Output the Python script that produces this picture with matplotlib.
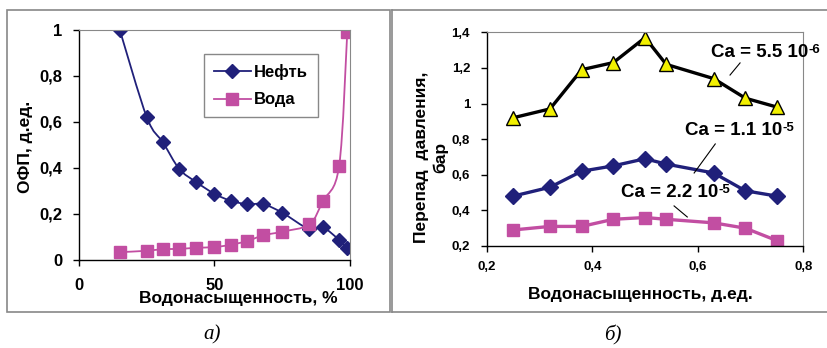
import matplotlib.pyplot as plt
from matplotlib.path import Path
from matplotlib.patches import PathPatch, Rectangle
from matplotlib.lines import Line2D
from matplotlib.ticker import FuncFormatter

plt.rcParams['font.family'] = ['Liberation Sans', 'DejaVu Sans']
plt.rcParams['font.weight'] = 'bold'

# --- data, panel a) ---
sw_pct = [15, 25, 31, 37, 43, 50, 56, 62, 68, 75, 85, 90, 96, 99]
kr_oil = [1.0, 0.62, 0.51, 0.395, 0.34, 0.287, 0.257, 0.242, 0.242, 0.205, 0.133, 0.141, 0.087, 0.05]
kr_water = [0.034, 0.04, 0.047, 0.048, 0.053, 0.056, 0.066, 0.082, 0.107, 0.123, 0.155, 0.256, 0.409, 0.99]

# --- data, panel b) ---
sw_frac = [0.25, 0.32, 0.38, 0.44, 0.50, 0.54, 0.63, 0.69, 0.75]
dp_ca1 = [0.92, 0.97, 1.19, 1.23, 1.37, 1.22, 1.14, 1.03, 0.98]   # Ca = 5.5e-6
dp_ca2 = [0.48, 0.53, 0.62, 0.65, 0.69, 0.66, 0.61, 0.51, 0.48]   # Ca = 1.1e-5
dp_ca3 = [0.29, 0.31, 0.31, 0.35, 0.36, 0.35, 0.33, 0.30, 0.23]   # Ca = 2.2e-5

NAVY = '#20207a'
PINK = '#c24ea2'
W, H = 828, 348


def smooth_path(x, y):
    # Catmull-Rom -> cubic Bezier, like Excel's smoothed line
    pts = list(zip(x, y))
    n = len(pts)
    verts = [pts[0]]
    codes = [Path.MOVETO]
    for i in range(n - 1):
        p0 = pts[max(i - 1, 0)]
        p1 = pts[i]
        p2 = pts[i + 1]
        p3 = pts[min(i + 2, n - 1)]
        c1 = (p1[0] + (p2[0] - p0[0]) / 6, p1[1] + (p2[1] - p0[1]) / 6)
        c2 = (p2[0] - (p3[0] - p1[0]) / 6, p2[1] - (p3[1] - p1[1]) / 6)
        verts += [c1, c2, p2]
        codes += [Path.CURVE4] * 3
    return Path(verts, codes)


def comma(v, pos):
    s = ('%.1f' % v).replace('.', ',')
    if s.endswith(',0'):
        s = s[:-2]
    return s


def style_axes(ax, lsize, pad_x, pad_y):
    for side in ['top', 'right']:
        ax.spines[side].set_color('#888888')
    for side in ['left', 'bottom']:
        ax.spines[side].set_color('black')
        ax.spines[side].set_linewidth(1.0)
    ax.tick_params(direction='out', length=4, width=1, labelsize=lsize)
    ax.tick_params(axis='x', pad=pad_x)
    ax.tick_params(axis='y', pad=pad_y)
    ax.yaxis.set_major_formatter(FuncFormatter(comma))


fig = plt.figure(figsize=(W / 100, H / 100), dpi=100)

# panel frames
fig.add_artist(Rectangle((7 / W, 1 - 312 / H), 383 / W, 302 / H, transform=fig.transFigure,
                         fill=False, edgecolor='#888888', lw=1.2))
fig.add_artist(Line2D([392 / W, 1], [1 - 10 / H, 1 - 10 / H], transform=fig.transFigure, color='#888888', lw=1.2))
fig.add_artist(Line2D([392 / W, 1], [1 - 312 / H, 1 - 312 / H], transform=fig.transFigure, color='#888888', lw=1.2))
fig.add_artist(Line2D([392 / W, 392 / W], [1 - 10 / H, 1 - 312 / H], transform=fig.transFigure, color='#888888', lw=1.2))

# ---------- a) ----------
ax1 = fig.add_axes([79 / W, 1 - 260 / H, 271 / W, 230.5 / H])
ax1.add_patch(PathPatch(smooth_path(sw_pct, kr_oil), fill=False, edgecolor=NAVY, lw=1.3))
ax1.add_patch(PathPatch(smooth_path(sw_pct, kr_water), fill=False, edgecolor=PINK, lw=1.3))
ax1.plot(sw_pct, kr_oil, ls='none', marker='D', ms=7, color=NAVY, label='Нефть')
ax1.plot(sw_pct, kr_water, ls='none', marker='s', ms=8, color=PINK, label='Вода')
ax1.set_xlim(0, 100)
ax1.set_ylim(0, 1)
ax1.set_xticks([0, 50, 100])
ax1.set_yticks([0, 0.2, 0.4, 0.6, 0.8, 1.0])
style_axes(ax1, 12, 9, 8)
ax1.set_xlabel('Водонасыщенность, %', fontsize=12.5, fontweight='bold', va='center')
ax1.xaxis.set_label_coords(0.587, -0.169)
ax1.set_ylabel('ОФП, д.ед.', fontsize=12.5, fontweight='bold', va='center')
ax1.yaxis.set_label_coords(-0.199, 0.49)

h_oil = Line2D([], [], color=NAVY, lw=1.3, marker='D', ms=7)
h_wat = Line2D([], [], color=PINK, lw=1.3, marker='s', ms=8)
leg = ax1.legend([h_oil, h_wat], ['Нефть', 'Вода'], loc='upper left', bbox_to_anchor=(0.461, 0.894),
                 fontsize=12, frameon=True, fancybox=False, edgecolor='#888888', framealpha=1,
                 handlelength=2.2, handletextpad=0.2, labelspacing=0.75, borderpad=0.6, borderaxespad=0)
leg.get_frame().set_linewidth(1.0)

fig.text(212 / W, 1 - 335 / H, 'а)', family='Liberation Serif', style='italic', fontweight='normal',
         fontsize=15, ha='center', va='center')

# ---------- b) ----------
ax2 = fig.add_axes([486.7 / W, 1 - 246 / H, 316.7 / W, 213.7 / H])
ax2.plot(sw_frac, dp_ca1, color='black', lw=2.4, marker='^', ms=10.5, mfc='#f2f000', mec='black', mew=1.0)
ax2.plot(sw_frac, dp_ca2, color=NAVY, lw=2.4, marker='D', ms=8.5)
ax2.plot(sw_frac, dp_ca3, color=PINK, lw=2.4, marker='s', ms=9)
ax2.set_xlim(0.2, 0.8)
ax2.set_ylim(0.2, 1.4)
ax2.set_xticks([0.2, 0.4, 0.6, 0.8])
ax2.set_yticks([0.2, 0.4, 0.6, 0.8, 1.0, 1.2, 1.4])
ax2.xaxis.set_major_formatter(FuncFormatter(comma))
style_axes(ax2, 9.5, 7, 8)
ax2.set_xlabel('Водонасыщенность, д.ед.', fontsize=12.5, fontweight='bold', va='center')
ax2.xaxis.set_label_coords(0.484, -0.229)
ax2.set_ylabel('Перепад  давления,\nбар', fontsize=12.5, fontweight='bold', va='center',
               linespacing=1.3)
ax2.yaxis.set_label_coords(-0.176, 0.416)

# label text, exponent, text centre, leader line ends
ca_labels = [('Ca = 5.5 10', '-6', 0.718, 1.284, (0.661, 1.16), (0.680, 1.228)),
             ('Ca = 1.1 10', '-5', 0.668, 0.851, (0.633, 0.773), (0.593, 0.61)),
             ('Ca = 2.2 10', '-5', 0.547, 0.498, (0.555, 0.425), (0.580, 0.363))]
for txt, sup, tx, ty, p0, p1 in ca_labels:
    t = ax2.text(tx, ty, txt, fontsize=13.5, fontweight='bold', ha='center', va='center')
    ax2.annotate(sup, xy=(1.0, 1.0), xycoords=t, fontsize=9.5, fontweight='bold', va='top', ha='left')
    ax2.add_line(Line2D([p0[0], p1[0]], [p0[1], p1[1]], color='black', lw=0.8))

fig.text(613 / W, 1 - 335 / H, 'б)', family='Liberation Serif', style='italic', fontweight='normal',
         fontsize=15, ha='center', va='center')

fig.savefig('out.png', dpi=100)
